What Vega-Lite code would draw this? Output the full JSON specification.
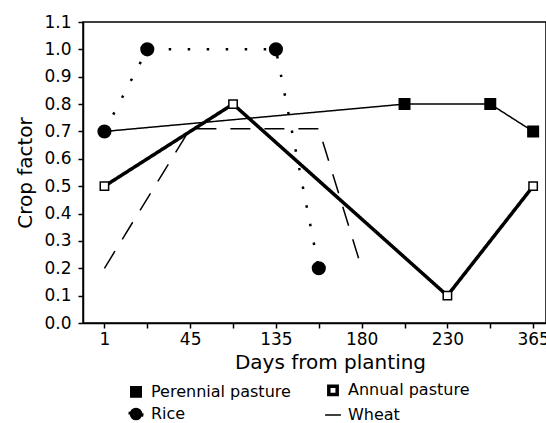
{
  "$schema": "https://vega.github.io/schema/vega-lite/v6.json",
  "width": 463,
  "height": 301,
  "autosize": "none",
  "padding": {"left": 83, "top": 22, "right": 0, "bottom": 100},
  "background": "white",
  "data": {
    "values": [
      {"series": "Perennial pasture", "x": 0, "factor": 0.7},
      {"series": "Perennial pasture", "x": 7, "factor": 0.8},
      {"series": "Perennial pasture", "x": 9, "factor": 0.8},
      {"series": "Perennial pasture", "x": 10, "factor": 0.7},
      {"series": "Annual pasture", "x": 0, "factor": 0.5},
      {"series": "Annual pasture", "x": 3, "factor": 0.8},
      {"series": "Annual pasture", "x": 8, "factor": 0.1},
      {"series": "Annual pasture", "x": 10, "factor": 0.5},
      {"series": "Rice", "x": 0, "factor": 0.7},
      {"series": "Rice", "x": 1, "factor": 1.0},
      {"series": "Rice", "x": 4, "factor": 1.0},
      {"series": "Rice", "x": 5, "factor": 0.2},
      {"series": "Wheat", "x": 0, "factor": 0.2},
      {"series": "Wheat", "x": 2, "factor": 0.71},
      {"series": "Wheat", "x": 5, "factor": 0.71},
      {"series": "Wheat", "x": 6, "factor": 0.2}
    ]
  },
  "encoding": {
    "x": {
      "field": "x", "type": "quantitative",
      "scale": {"domain": [-0.5, 10.3], "nice": false, "zero": false},
      "axis": {
        "title": "Days from planting",
        "values": [0, 1, 2, 3, 4, 5, 6, 7, 8, 9, 10],
        "labelExpr": "datum.value == 0 ? '1' : datum.value == 2 ? '45' : datum.value == 4 ? '135' : datum.value == 6 ? '180' : datum.value == 8 ? '230' : datum.value == 10 ? '365' : ''",
        "labelFontSize": 17,
        "labelPadding": 3,
        "tickSize": 5,
        "titleFontSize": 20,
        "titlePadding": 5,
        "titleX": 247
      }
    },
    "y": {
      "field": "factor", "type": "quantitative",
      "scale": {"domain": [0, 1.1], "nice": false},
      "axis": {
        "title": "Crop factor",
        "values": [0, 0.1, 0.2, 0.3, 0.4, 0.5, 0.6, 0.7, 0.8, 0.9, 1.0, 1.1],
        "format": ".1f",
        "labelFontSize": 17,
        "labelPadding": 7,
        "tickSize": 5,
        "titleFontSize": 20,
        "titlePadding": 8
      }
    }
  },
  "layer": [
    {
      "mark": {"type": "line", "color": "black"},
      "encoding": {
        "detail": {"field": "series"},
        "strokeDash": {
          "field": "series", "type": "nominal",
          "scale": {"type": "ordinal", "domain": ["Perennial pasture", "Annual pasture", "Rice", "Wheat"], "range": [[1, 0], [1, 0], [2.5, 16.5], [20, 14]]}
        },
        "strokeWidth": {
          "field": "series", "type": "nominal",
          "scale": {"type": "ordinal", "domain": ["Perennial pasture", "Annual pasture", "Rice", "Wheat"], "range": [1.5, 3.5, 2.5, 1.5]}
        }
      }
    },
    {
      "transform": [
        {"filter": "datum.series != 'Wheat' && !(datum.series == 'Perennial pasture' && datum.x == 0)"}
      ],
      "mark": {"type": "point", "filled": false, "stroke": "black", "strokeWidth": 1.5, "opacity": 1},
      "encoding": {
        "shape": {
          "field": "series", "type": "nominal",
          "scale": {"domain": ["Perennial pasture", "Annual pasture", "Rice", "Wheat"], "range": ["square", "square", "circle", "stroke"]},
          "legend": {
            "title": null,
            "orient": "none",
            "direction": "horizontal",
            "legendX": 44,
            "legendY": 360,
            "columns": 2,
            "columnPadding": 30,
            "rowPadding": 0,
            "labelFont": "DejaVu Sans",
            "labelFontSize": 16,
            "labelColor": "black",
            "labelOffset": 6,
            "symbolStrokeColor": "black"
          }
        },
        "fill": {
          "field": "series", "type": "nominal",
          "scale": {"domain": ["Perennial pasture", "Annual pasture", "Rice", "Wheat"], "range": ["black", "white", "black", "black"]}
        },
        "size": {
          "field": "series", "type": "nominal",
          "scale": {"type": "ordinal", "domain": ["Perennial pasture", "Annual pasture", "Rice", "Wheat"], "range": [110, 70, 160, 250]}
        }
      }
    }
  ],
  "config": {
    "view": {"stroke": "black", "strokeWidth": 1.5},
    "font": "DejaVu Sans",
    "axis": {
      "grid": false,
      "domainColor": "black",
      "domainWidth": 1.5,
      "tickColor": "black",
      "tickWidth": 1.5,
      "labelColor": "black",
      "titleColor": "black",
      "labelFont": "DejaVu Sans",
      "titleFont": "DejaVu Sans",
      "titleFontWeight": "normal"
    }
  }
}
